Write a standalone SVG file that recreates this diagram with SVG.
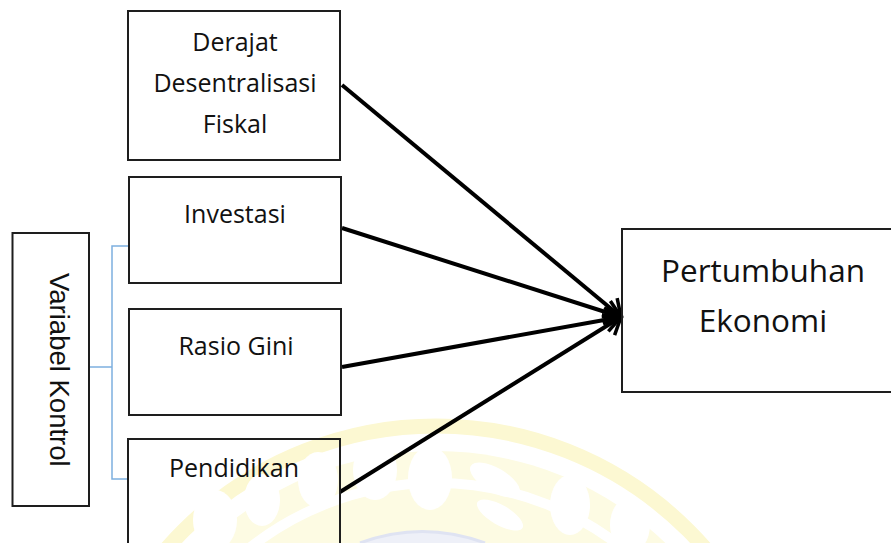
<svg xmlns="http://www.w3.org/2000/svg" width="891" height="543" viewBox="0 0 891 543">
  <defs>
    <style>
      .box { fill: none; stroke: #1e1e1e; stroke-width: 2; }
      .lbl { font-family: "Open Sans", "Noto Sans", sans-serif; font-size: 25px; fill: #111; text-anchor: middle; }
      .big { font-size: 31.5px; }
      .vk { font-family: "Liberation Sans", Arial, sans-serif; font-size: 27.5px; fill: #111; }
      .conn { stroke: #000; stroke-width: 4; fill: none; marker-end: url(#arr); }
      .brk { stroke: #7eb0df; stroke-width: 1.5; fill: none; }
      .wm { fill: none; stroke: #fcf8d2; }
    </style>
    <marker id="arr" markerUnits="userSpaceOnUse" markerWidth="30" markerHeight="30" viewBox="-20 -15 25 30" refX="0" refY="0" orient="auto">
      <path d="M-15,-12 L0,0 L-15,12" fill="none" stroke="#000" stroke-width="3.5" stroke-linejoin="miter"/>
    </marker>
  </defs>
  <rect width="891" height="543" fill="#fff"/>

  <g id="watermark">
    <circle cx="436" cy="783" r="357" class="wm" stroke-width="15"/>
    <circle cx="436" cy="783" r="332" fill="#fdfbe3" stroke="none"/>
    <circle cx="436" cy="783" r="300" fill="none" stroke="#fff" stroke-width="10"/>
    <ellipse cx="215" cy="520" rx="22" ry="30" fill="#fff"/>
    <ellipse cx="262" cy="500" rx="18" ry="26" fill="#fff"/>
    <ellipse cx="318" cy="480" rx="20" ry="28" fill="#fff"/>
    <ellipse cx="375" cy="470" rx="22" ry="30" fill="#fff"/>
    <ellipse cx="430" cy="478" rx="22" ry="32" fill="#fff"/>
    <ellipse cx="495" cy="480" rx="12" ry="28" fill="#fff" transform="rotate(-60 495 480)"/>
    <ellipse cx="500" cy="515" rx="10" ry="26" fill="#fff" transform="rotate(-60 500 515)"/>
    <ellipse cx="570" cy="505" rx="20" ry="30" fill="#fff"/>
    <ellipse cx="630" cy="525" rx="20" ry="28" fill="#fff"/>
    <path d="M360,543 Q422,520 485,543" fill="#eef0f8" stroke="#dfe3f2" stroke-width="3"/>
  </g>

  <g id="connectors">
    <line class="conn" x1="342" y1="85" x2="621" y2="317"/>
    <line class="conn" x1="342" y1="228" x2="621" y2="317"/>
    <line class="conn" x1="342" y1="367" x2="621" y2="317"/>
    <line class="conn" x1="340" y1="492" x2="621" y2="317"/>
    <path class="brk" d="M129,246 H112 V479 H129 M89,367 H112"/>
  </g>

  <g id="node-derajat">
    <rect class="box" x="128" y="11" width="212" height="149"/>
    <text class="lbl" x="235" y="51">Derajat</text>
    <text class="lbl" x="235" y="92">Desentralisasi</text>
    <text class="lbl" x="235" y="133">Fiskal</text>
  </g>
  <g id="node-investasi">
    <rect class="box" x="129" y="177" width="212" height="106"/>
    <text class="lbl" x="235" y="223">Investasi</text>
  </g>
  <g id="node-rasio-gini">
    <rect class="box" x="129" y="309" width="212" height="106"/>
    <text class="lbl" x="236" y="355">Rasio Gini</text>
  </g>
  <g id="node-pendidikan">
    <rect class="box" x="128" y="439" width="212" height="120"/>
    <text class="lbl" x="234" y="477">Pendidikan</text>
  </g>
  <g id="node-variabel-kontrol">
    <rect class="box" x="12.5" y="233" width="76.5" height="273"/>
    <text class="vk" transform="translate(50,273) rotate(90)" x="0" y="0">Variabel Kontrol</text>
  </g>
  <g id="node-pertumbuhan">
    <rect class="box" x="622" y="229" width="280" height="163"/>
    <text class="lbl big" x="763" y="282">Pertumbuhan</text>
    <text class="lbl big" x="763" y="332">Ekonomi</text>
  </g>
</svg>
